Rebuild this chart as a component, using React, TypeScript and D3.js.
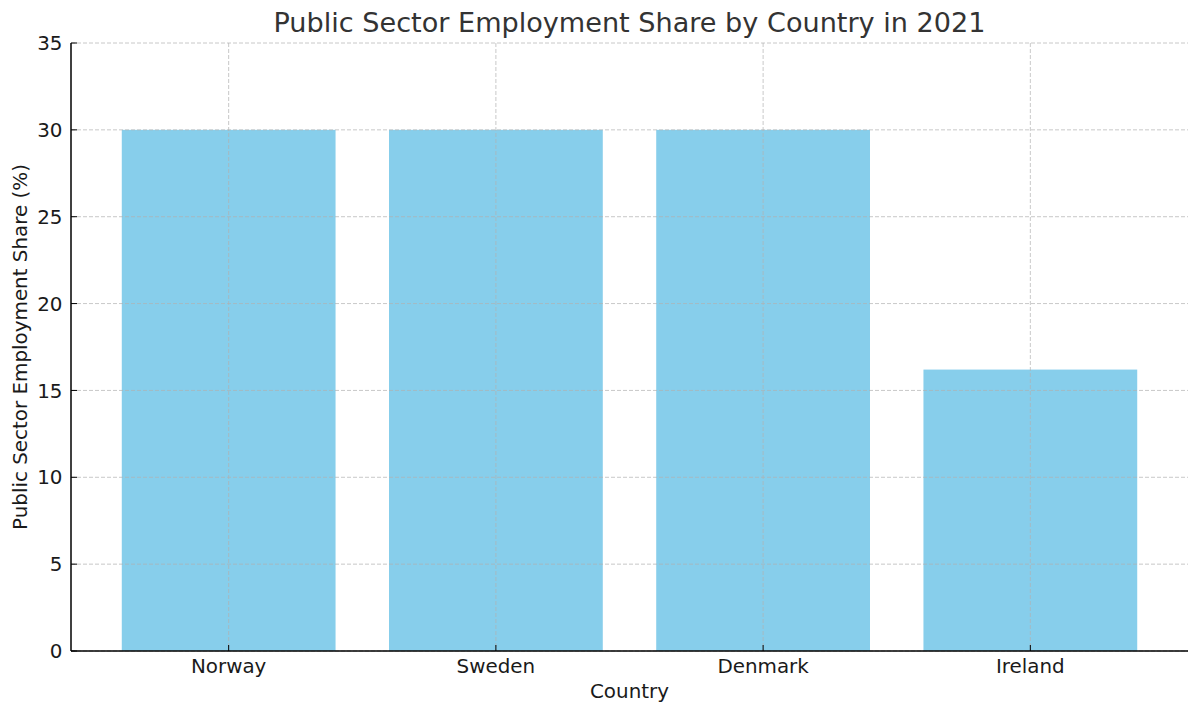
import React from "react";
import * as d3 from "d3";

const categories = ["Norway", "Sweden", "Denmark", "Ireland"];
const values = [30, 30, 30, 16.2];
const yTicks = [0, 5, 10, 15, 20, 25, 30, 35];

const W = 1200;
const H = 716;
const left = 71;
const right = 1188;
const top = 43;
const bottom = 651;
const font = "DejaVu Sans, sans-serif";

export default function App() {
  const x = d3.scaleLinear().domain([-0.59, categories.length - 1 + 0.59]).range([left, right]);
  const y = d3.scaleLinear().domain([0, 35]).range([bottom, top]);
  const bw = x(0.8) - x(0);
  return (
    <svg width={W} height={H} style={{ position: "absolute", left: 0, top: 0 }}>
      <rect width={W} height={H} fill="#fff" />
      {categories.map((c, i) => (
        <rect key={c} x={x(i) - bw / 2} y={y(values[i])} width={bw} height={y(0) - y(values[i])} fill="#87CEEB" />
      ))}
      {yTicks.map((t) => (
        <line key={"gy" + t} x1={left} x2={right} y1={y(t)} y2={y(t)} stroke="#b0b0b0" strokeOpacity={0.7} strokeDasharray="4,2" strokeWidth={1} />
      ))}
      {categories.map((c, i) => (
        <line key={"gx" + c} x1={x(i)} x2={x(i)} y1={top} y2={bottom} stroke="#b0b0b0" strokeOpacity={0.7} strokeDasharray="4,2" strokeWidth={1} />
      ))}
      <line x1={left} x2={left} y1={top} y2={bottom} stroke="#000" strokeWidth={1.5} />
      <line x1={left} x2={right} y1={bottom} y2={bottom} stroke="#000" strokeWidth={1.5} />
      {yTicks.map((t) => (
        <g key={"ty" + t}>
          <line x1={left} x2={left + 6} y1={y(t)} y2={y(t)} stroke="#000" strokeWidth={1} />
          <text x={left - 8.5} y={y(t)} dy="0.36em" textAnchor="end" fontFamily={font} fontSize={19.9} fill="#1a1a1a">{t}</text>
        </g>
      ))}
      {categories.map((c, i) => (
        <g key={"tx" + c}>
          <line x1={x(i)} x2={x(i)} y1={bottom} y2={bottom - 6} stroke="#000" strokeWidth={1} />
          <text x={x(i)} y={673} textAnchor="middle" fontFamily={font} fontSize={19.9} fill="#1a1a1a">{c}</text>
        </g>
      ))}
      <text x={(left + right) / 2} y={698} textAnchor="middle" fontFamily={font} fontSize={19.9} fill="#1a1a1a">Country</text>
      <text transform={`translate(27,${(top + bottom) / 2}) rotate(-90)`} textAnchor="middle" fontFamily={font} fontSize={19.9} fill="#1a1a1a">Public Sector Employment Share (%)</text>
      <text x={(left + right) / 2} y={32} textAnchor="middle" fontFamily={font} fontSize={27.1} fill="#333">Public Sector Employment Share by Country in 2021</text>
    </svg>
  );
}
